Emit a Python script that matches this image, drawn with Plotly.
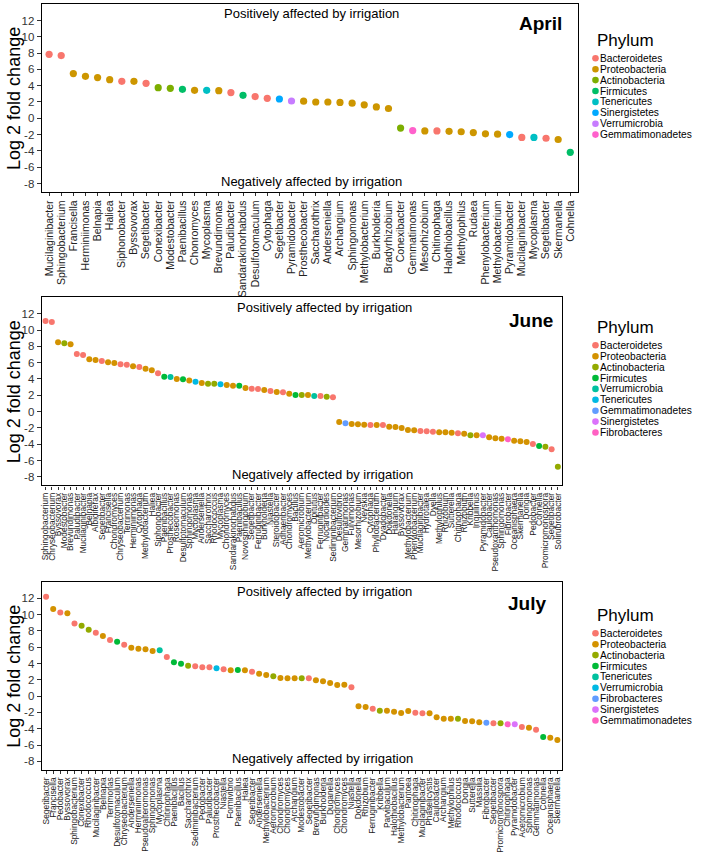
import plotly.graph_objects as go

W, H = 708, 853

# ---------------- data ----------------
phyla_april = ["Bacteroidetes", "Proteobacteria", "Actinobacteria", "Firmicutes",
               "Tenericutes", "Sinergistetes", "Verrumicrobia", "Gemmatimonadetes"]
phyla_june = ["Bacteroidetes", "Proteobacteria", "Actinobacteria", "Firmicutes",
              "Verrumicrobia", "Tenericutes", "Gemmatimonadetes", "Sinergistetes", "Fibrobacteres"]
phyla_july = ["Bacteroidetes", "Proteobacteria", "Actinobacteria", "Firmicutes",
              "Tenericutes", "Verrumicrobia", "Fibrobacteres", "Sinergistetes", "Gemmatimonadetes"]

CODES = {"Bac": "Bacteroidetes", "Pro": "Proteobacteria", "Act": "Actinobacteria",
         "Fir": "Firmicutes", "Ten": "Tenericutes", "Syn": "Sinergistetes",
         "Ver": "Verrumicrobia", "Gem": "Gemmatimonadetes", "Fib": "Fibrobacteres"}

genus_april = ["Mucilaginibacter", "Sphingobacterium", "Francisella", "Herminiimonas", "Belnapia",
               "Haliea", "Siphonobacter", "Byssovorax", "Segetibacter", "Conexibacter",
               "Modestobacter", "Paenibacillus", "Chonromyces", "Mycoplasma", "Brevundimonas",
               "Paludibacter", "Sandarakinorhabdus", "Desulfotomaculum", "Cytophaga", "Segetibacter",
               "Pyramidobacter", "Prosthecobacter", "Saccharothrix", "Anderseniella", "Archangium",
               "Sphingomonas", "Methylobacterium", "Burkholderia", "Bradyrhizobium", "Conexibacter",
               "Gemmatimonas", "Mesorhizobium", "Chitinophaga", "Halothiobacillus", "Methylophilus",
               "Rudaea", "Phenylobacterium", "Methylobacterium", "Pyramidobacter", "Mucilaginibacter",
               "Mycoplasma", "Segetibacter", "Skermanella", "Cohnella"]
lfc_april = [7.85, 7.69, 5.48, 5.15, 4.99, 4.74, 4.54, 4.54, 4.29, 3.76,
             3.68, 3.55, 3.43, 3.43, 3.39, 3.15, 2.82, 2.66, 2.45, 2.37,
             2.12, 2.10, 2.00, 2.00, 1.95, 1.85, 1.65, 1.40, 1.20, -1.20,
             -1.50, -1.55, -1.55, -1.60, -1.65, -1.75, -1.90, -1.95, -2.00, -2.35,
             -2.35, -2.45, -2.60, -4.17]
phylum_april = ["Bac", "Bac", "Pro", "Pro", "Pro", "Pro", "Bac", "Pro", "Bac", "Act",
                "Act", "Fir", "Pro", "Ten", "Pro", "Bac", "Fir", "Bac", "Bac", "Syn",
                "Ver", "Pro", "Pro", "Pro", "Pro", "Pro", "Pro", "Pro", "Pro", "Act",
                "Gem", "Pro", "Bac", "Pro", "Pro", "Pro", "Pro", "Pro", "Syn", "Bac",
                "Ten", "Bac", "Pro", "Fir"]

genus_june = ["Sphingobacterium", "Chryseobacterium", "Byssovorax", "Modestobacter", "Brevundimonas",
              "Paludibacter", "Mucilaginibacter", "Belnapia", "Albidiferax", "Segetibacter",
              "Francisella", "Chondromyces", "Chryseobacterium", "Terrimonas", "Herminiimonas",
              "Cytophaga", "Methylobacterium", "Haliea", "Siphonobacter", "Paenibacillus",
              "Prosthecobacter", "Roseomonas", "Desulfotomaculum", "Sphingomonas", "Mycoplasma",
              "Anderseniella", "Saccharothrix", "Rhodococcus", "Mycoplasma", "Chondromyces",
              "Sandarakinorhabdus", "Paenibacillus", "Novosphingobium", "Segetibacter", "Ferruginibacter",
              "Burkholderia", "Niastella", "Steroidobacter", "Adhaeribacter", "Chondromyces",
              "Bacillus", "Aeromicrobium", "Methylobacterium", "Opitutus", "Ferruginibacter",
              "Nocardioides", "Sediminibacterium", "Desulfovibrio", "Gemmatimonas", "Fulvimonas",
              "Mesorhizobium", "Nevskia", "Cytophaga", "Phyllobacterium", "Dyadobacter",
              "Dokdonella", "Haliangium", "Byssovorax", "Methylobacterium", "Phenylobacterium",
              "Mucilaginibacter", "Hydrotalea", "Dyella", "Methylophilus", "Rhizobium",
              "Sutterella", "Chitinophaga", "Rhizobium", "Kribbella", "Inquilinus",
              "Pyramidobacter", "Caulobacter", "Pseudoxanthomonas", "Sphingomonas", "Fibrobacter",
              "Oceanisphaera", "Skermanella", "Dongia", "Pedobacter", "Cohnella",
              "Promicromonospora", "Segetibacter", "Solirubrobacter"]
lfc_june = [11.12, 10.99, 8.50, 8.38, 8.25, 7.07, 6.94, 6.41, 6.33, 6.21,
            6.05, 5.96, 5.80, 5.76, 5.55, 5.47, 5.27, 5.06, 4.70, 4.29,
            4.25, 4.00, 3.97, 3.80, 3.67, 3.51, 3.43, 3.43, 3.35, 3.26,
            3.18, 3.18, 2.90, 2.81, 2.77, 2.65, 2.53, 2.40, 2.36, 2.20,
            2.04, 2.04, 2.04, 1.91, 1.91, 1.83, 1.75, -1.28, -1.44, -1.52,
            -1.56, -1.60, -1.64, -1.64, -1.64, -1.85, -1.89, -2.01, -2.26, -2.30,
            -2.38, -2.42, -2.46, -2.54, -2.54, -2.58, -2.67, -2.71, -2.91, -2.91,
            -2.91, -3.16, -3.28, -3.32, -3.40, -3.57, -3.65, -3.73, -3.98, -4.22,
            -4.30, -4.63, -6.76]
phylum_june = ["Bac", "Bac", "Pro", "Act", "Pro", "Bac", "Bac", "Pro", "Pro", "Bac",
               "Pro", "Pro", "Bac", "Bac", "Pro", "Bac", "Pro", "Pro", "Bac", "Fir",
               "Ver", "Pro", "Fir", "Pro", "Ten", "Pro", "Act", "Act", "Ten", "Pro",
               "Pro", "Fir", "Pro", "Bac", "Bac", "Pro", "Bac", "Pro", "Bac", "Pro",
               "Fir", "Act", "Pro", "Ver", "Bac", "Act", "Bac", "Pro", "Gem", "Pro",
               "Pro", "Pro", "Bac", "Pro", "Bac", "Pro", "Pro", "Pro", "Pro", "Pro",
               "Bac", "Bac", "Bac", "Pro", "Pro", "Pro", "Bac", "Pro", "Act", "Pro",
               "Syn", "Pro", "Pro", "Pro", "Fib", "Pro", "Pro", "Pro", "Bac", "Fir",
               "Act", "Bac", "Act"]

genus_july = ["Segetibacter", "Francisella", "Pedobacter", "Byssovorax", "Sphingobacterium",
              "Conexibacter", "Rhodococcus", "Mucilaginibacter", "Belnapia", "Terrimonas",
              "Desulfotomaculum", "Chryseobacterium", "Anderseniella", "Herminiimonas", "Pseudoalteromonas",
              "Sphingomonas", "Mycoplasma", "Chitinophaga", "Paenibacillus", "Bacillus",
              "Saccharothrix", "Sediminibacterium", "Pedobacter", "Paludibacter", "Prosthecobacter",
              "Niastella", "Formivibrio", "Paenibacillus", "Haliea", "Segetibacter",
              "Anderseniella", "Methylobacterium", "Aeromicrobium", "Chondromyces", "Chondromyces",
              "Archangium", "Modestobacter", "Segetibacter", "Brevundimonas", "Burkholderia",
              "Duganella", "Chondromyces", "Chondromyces", "Niastella", "Dokdonella",
              "Rhizobium", "Ferruginibacter", "Kribbella", "Parvibaculum", "Halothiobacillus",
              "Methylobacterium", "Pantoea", "Chitinophaga", "Mucilaginibacter", "Phaselicystis",
              "Caulobacter", "Archangium", "Methylophilus", "Rhodococcus", "Dongia",
              "Sutterella", "Massilia", "Fibrobacter", "Segetibacter", "Promicromonospora",
              "Chitinophaga", "Pyramidobacter", "Acetomicrobium", "Sphingomonas", "Gemmatimonas",
              "Cohnella", "Oceanisphaera", "Skermanella"]
lfc_july = [12.20, 10.69, 10.24, 10.16, 8.89, 8.64, 8.15, 7.78, 7.37, 6.88,
            6.68, 6.31, 5.94, 5.82, 5.74, 5.53, 5.62, 4.80, 4.14, 3.98,
            3.73, 3.65, 3.53, 3.53, 3.41, 3.28, 3.16, 3.20, 3.16, 3.00,
            2.75, 2.59, 2.43, 2.22, 2.18, 2.18, 2.18, 2.18, 1.94, 1.81,
            1.61, 1.36, 1.40, 1.08, -1.26, -1.34, -1.54, -1.79, -1.79, -1.91,
            -2.07, -1.83, -2.03, -2.11, -2.11, -2.60, -2.77, -2.77, -2.77, -3.06,
            -3.10, -3.22, -3.26, -3.34, -3.34, -3.46, -3.46, -3.79, -3.87, -4.12,
            -5.02, -5.10, -5.39]
phylum_july = ["Bac", "Pro", "Bac", "Pro", "Bac", "Act", "Act", "Bac", "Pro", "Bac",
               "Fir", "Bac", "Pro", "Pro", "Pro", "Pro", "Ten", "Bac", "Fir", "Fir",
               "Act", "Bac", "Bac", "Bac", "Ver", "Bac", "Pro", "Fir", "Pro", "Bac",
               "Pro", "Pro", "Act", "Pro", "Pro", "Pro", "Act", "Bac", "Pro", "Pro",
               "Pro", "Pro", "Pro", "Bac", "Pro", "Pro", "Bac", "Act", "Pro", "Pro",
               "Pro", "Pro", "Bac", "Bac", "Pro", "Pro", "Pro", "Pro", "Act", "Pro",
               "Pro", "Pro", "Fib", "Bac", "Act", "Gem", "Syn", "Bac", "Pro", "Bac",
               "Fir", "Pro", "Pro"]

y_ticks = [-8, -6, -4, -2, 0, 2, 4, 6, 8, 10, 12]

# ---------------- style ----------------
palette8 = ["#F8766D", "#CD9600", "#7CAE00", "#00BE67", "#00BFC4", "#00A9FF", "#C77CFF", "#FF61CC"]
palette9 = ["#F8766D", "#D39200", "#93AA00", "#00BA38", "#00C19F", "#00B9E3", "#619CFF", "#DB72FB", "#FF61C3"]
FONT = "Liberation Sans, Arial, sans-serif"
Y_RANGE = [-9.04, 14.02]


def px(x):
    return x / W


def py(y):
    return 1 - y / H


panels = [
    dict(name="April", genus=genus_april, lfc=lfc_april, phylum=phylum_april, phyla=phyla_april,
         pal=palette8, x0=40, x1=578, top=4, bot=192, lab=10.5, msize=7.2,
         pos_x=311, neg_x=311, title_x=517, title_y=24, leg_top=4),
    dict(name="June", genus=genus_june, lfc=lfc_june, phylum=phylum_june, phyla=phyla_june,
         pal=palette9, x0=40, x1=562, top=297.3, bot=485.3, lab=8.4, msize=6.0,
         pos_x=324, neg_x=322, title_x=507, title_y=320, leg_top=291),
    dict(name="July", genus=genus_july, lfc=lfc_july, phylum=phylum_july, phyla=phyla_july,
         pal=palette9, x0=40, x1=562, top=581.8, bot=769.8, lab=8.4, msize=6.0,
         pos_x=324, neg_x=322, title_x=506, title_y=603, leg_top=579),
]

LEG_X = 596

fig = go.Figure()
annotations = []
shapes = []
layout_axes = {}

for i, p in enumerate(panels):
    k = "" if i == 0 else str(i + 1)
    cmap = {ph: p["pal"][j] for j, ph in enumerate(p["phyla"])}
    n = len(p["genus"])
    xs = list(range(n))
    colors = [cmap[CODES[c]] for c in p["phylum"]]
    fig.add_trace(go.Scatter(
        x=xs, y=p["lfc"], mode="markers", xaxis="x" + k, yaxis="y" + k,
        marker=dict(size=p["msize"], color=colors, line=dict(width=0)),
        text=p["genus"], hovertemplate="%{text}: %{y}<extra></extra>", showlegend=False))

    layout_axes["xaxis" + k] = dict(
        domain=[px(p["x0"]), px(p["x1"])], anchor="y" + k, range=[-0.6, n - 1 + 0.6],
        tickmode="array", tickvals=xs, ticktext=p["genus"], tickangle=-90,
        tickfont=dict(family=FONT, size=p["lab"], color="#222"),
        ticks="outside", ticklen=3, tickwidth=1, tickcolor="#333",
        showline=True, linecolor="black", linewidth=1.4, mirror=True,
        showgrid=False, zeroline=False, fixedrange=True)
    layout_axes["yaxis" + k] = dict(
        domain=[py(p["bot"]), py(p["top"])], anchor="x" + k, range=Y_RANGE,
        tickmode="array", tickvals=y_ticks, ticktext=[str(v) for v in y_ticks],
        tickfont=dict(family=FONT, size=11.5, color="#333"),
        ticks="outside", ticklen=4, tickwidth=1, tickcolor="#333",
        showline=True, linecolor="black", linewidth=1.4, mirror=True,
        showgrid=False, zeroline=False, fixedrange=True)

    # y-axis title
    annotations.append(dict(x=px(12), y=py((p["top"] + p["bot"]) / 2), xref="paper", yref="paper",
                            text="Log 2 fold change", textangle=-90, showarrow=False,
                            font=dict(family=FONT, size=18, color="black"),
                            xanchor="center", yanchor="middle"))
    # in-panel texts
    annotations.append(dict(x=px(p["pos_x"]), y=py(p["top"] + 10), xref="paper", yref="paper",
                            text="Positively affected by irrigation", showarrow=False,
                            font=dict(family=FONT, size=13, color="black"),
                            xanchor="center", yanchor="middle"))
    annotations.append(dict(x=px(p["neg_x"]), y=py(p["bot"] - 11), xref="paper", yref="paper",
                            text="Negatively affected by irrigation", showarrow=False,
                            font=dict(family=FONT, size=13, color="black"),
                            xanchor="center", yanchor="middle"))
    annotations.append(dict(x=px(p["title_x"]), y=py(p["title_y"]), xref="paper", yref="paper",
                            text="<b>%s</b>" % p["name"], showarrow=False,
                            font=dict(family=FONT, size=19, color="black"),
                            xanchor="left", yanchor="middle"))

    # legend (drawn manually to match ggplot's compact key spacing)
    lt = p["leg_top"]
    annotations.append(dict(x=px(LEG_X), y=py(lt + 36), xref="paper", yref="paper",
                            text="Phylum", showarrow=False,
                            font=dict(family=FONT, size=17, color="black"),
                            xanchor="left", yanchor="middle"))
    for j, ph in enumerate(p["phyla"]):
        cy = lt + 54.3 + 10.9 * j
        r = 3.3
        shapes.append(dict(type="circle", xref="paper", yref="paper",
                           x0=px(LEG_X - r), x1=px(LEG_X + r), y0=py(cy + r), y1=py(cy - r),
                           fillcolor=cmap[ph], line=dict(width=0)))
        annotations.append(dict(x=px(LEG_X + 3.5), y=py(cy), xref="paper", yref="paper",
                                text=ph, showarrow=False, borderpad=0,
                                font=dict(family=FONT, size=10.2, color="black"),
                                xanchor="left", yanchor="middle"))

fig.update_layout(
    width=W, height=H, margin=dict(l=0, r=0, t=0, b=0),
    paper_bgcolor="white", plot_bgcolor="white",
    annotations=annotations, shapes=shapes, **layout_axes)

fig.write_html("out.html", config={"displayModeBar": False},
               post_script="document.body.style.margin='0';document.body.style.overflow='hidden';")
